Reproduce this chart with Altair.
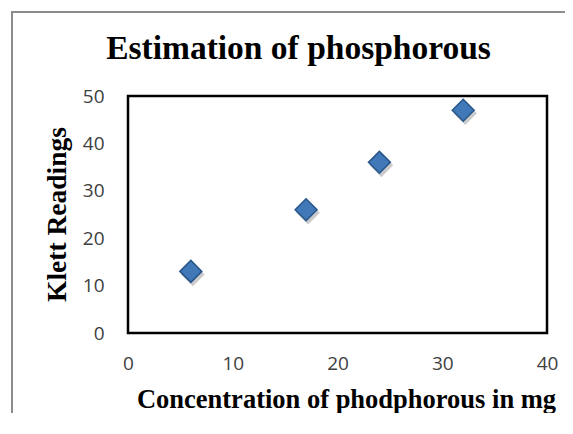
import altair as alt
import pandas as pd

concentration = [6, 17, 24, 32]
klett = [13, 26, 36, 47]
x_ticks = [0, 10, 20, 30, 40]
y_ticks = [0, 10, 20, 30, 40, 50]

df = pd.DataFrame({"conc": concentration, "klett": klett})

W, H = 419, 237

x_enc = alt.X("conc:Q", scale=alt.Scale(domain=[0, 40]),
              axis=alt.Axis(values=x_ticks, grid=False, ticks=False, domain=False,
                            labelFlush=False,
                            labelFont="Open Sans", labelFontSize=19, labelColor="#404040",
                            labelPadding=21, labelBaseline="top",
                            title="Concentration of phodphorous in mg",
                            titleFont="Liberation Serif", titleFontSize=26.5, titleFontWeight="bold",
                            titleColor="#000000", titleX=218, titleY=74,
                            titleBaseline="alphabetic"))
y_enc = alt.Y("klett:Q", scale=alt.Scale(domain=[0, 50]),
              axis=alt.Axis(values=y_ticks, grid=False, ticks=False, domain=False,
                            labelFlush=False,
                            labelFont="Open Sans", labelFontSize=19, labelColor="#404040",
                            labelPadding=24,
                            title="Klett Readings",
                            titleFont="Liberation Serif", titleFontSize=27.5, titleFontWeight="bold",
                            titleColor="#000000", titleX=-63, titleY=118, titleAngle=-90,
                            titleBaseline="alphabetic", titleAlign="center"))

shadow = alt.Chart(df).mark_point(shape="diamond", filled=True, size=560, color="#6a6a6a",
                                  opacity=0.35, xOffset=2, yOffset=3).encode(x=x_enc, y=y_enc)
points = alt.Chart(df).mark_point(shape="diamond", filled=True, size=480, fill="#4178b8",
                                  stroke="#285688", strokeWidth=1.5, opacity=1).encode(x=x_enc, y=y_enc)

frame_left = alt.Chart(df).mark_rule(color="#8c8c8c", strokeWidth=2).encode(
    x=alt.value(-116), y=alt.value(-84), y2=alt.value(340))
frame_top = alt.Chart(df).mark_rule(color="#8c8c8c", strokeWidth=2).encode(
    x=alt.value(-117), x2=alt.value(440), y=alt.value(-84))

chart = alt.layer(frame_left, frame_top, shadow, points).properties(
    width=W, height=H,
    title=alt.TitleParams("Estimation of phosphorous", font="Liberation Serif", fontSize=33.5,
                          fontWeight="bold", color="#000000", frame="group",
                          baseline="alphabetic", offset=0, dy=81, dx=-39),
    autosize=alt.AutoSizeParams(type="none"),
    padding={"left": 120, "top": 88, "right": 18, "bottom": 80},
    background="white",
).configure_view(stroke="#000000", strokeWidth=2.5)

chart.save("out.html", embed_options={"renderer": "svg", "actions": False})
